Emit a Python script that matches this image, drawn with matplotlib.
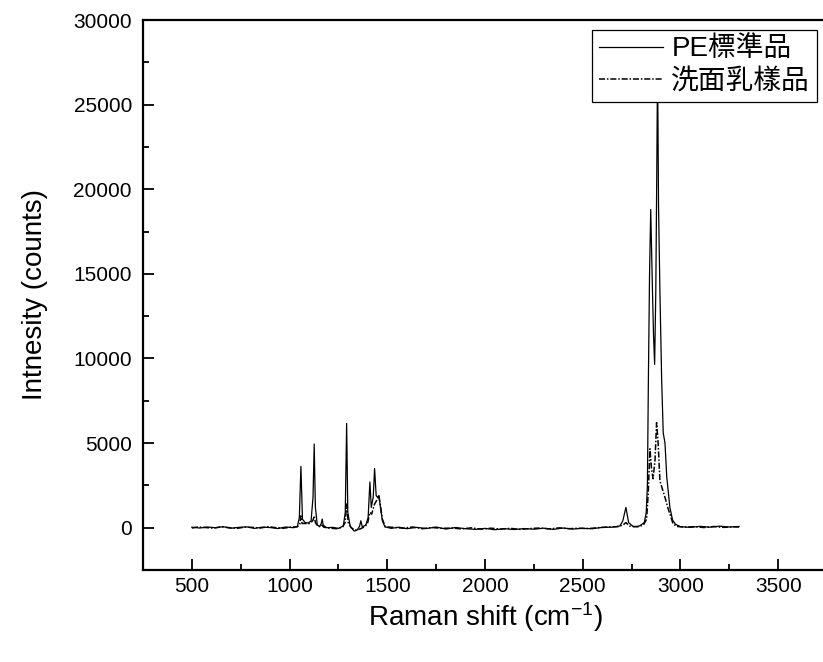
import matplotlib
matplotlib.use('Agg')
import matplotlib.pyplot as plt
from matplotlib.ticker import MultipleLocator

plt.rcParams['font.family'] = ['Liberation Sans', 'Noto Sans CJK TC']
plt.rcParams['mathtext.fontset'] = 'custom'
plt.rcParams['mathtext.rm'] = 'Liberation Sans'
plt.rcParams['mathtext.it'] = 'Liberation Sans:italic'

# --- data ---
# PE standard (solid line)
pe_x = [500, 540, 580, 620, 660, 700, 740, 780, 820, 860, 900, 940, 980, 1020,
        1040, 1050, 1058, 1066, 1080, 1095, 1110, 1120, 1126, 1132, 1142, 1155,
        1162, 1167, 1172, 1190, 1220, 1250, 1275, 1285, 1292, 1298, 1310, 1330,
        1345, 1358, 1365, 1372, 1390, 1402, 1411, 1418, 1428, 1435, 1443, 1450,
        1457, 1465, 1475, 1488, 1520, 1560, 1600, 1650, 1700, 1750, 1800, 1850,
        1900, 1950, 2000, 2050, 2100, 2150, 2200, 2250, 2300, 2350, 2400, 2450,
        2500, 2550, 2600, 2650, 2690, 2705, 2721, 2735, 2760, 2790, 2815, 2825,
        2831, 2836, 2842, 2848, 2855, 2862, 2868, 2874, 2879, 2883, 2888, 2895,
        2904, 2912, 2921, 2930, 2946, 2960, 2975, 3000, 3050, 3100, 3150, 3200,
        3250, 3300]
pe_y = [30, -20, 40, 0, 60, -30, 20, 50, -40, 30, 10, -50, 40, 0,
        80, 600, 3620, 500, 300, 280, 400, 1800, 4940, 1200, 150, 80,
        250, 510, 150, 0, 20, -40, 100, 900, 6160, 900, 100, -200,
        -150, 80, 410, 50, 150, 600, 2700, 1200, 1800, 3500, 1900, 1800,
        1900, 1200, 400, 50, -40, 30, -60, 20, -50, 40, -80, 10,
        -60, -100, -40, -120, -60, -110, -50, -90, -30, -100, -20, -80,
        -40, -60, 20, 30, 100, 400, 1200, 300, 50, 100, 300, 900,
        2500, 8700, 15000, 18800, 15000, 11500, 9650, 14000, 21000, 27500, 19000, 14000,
        8700, 5600, 5000, 3000, 1200, 450, 200, 60, 20, 80, 30, 90,
        40, 70]

# face wash sample (dash-dot line)
fw_x = [500, 530, 570, 610, 650, 690, 730, 770, 810, 850, 890, 930, 970, 1010,
        1040, 1052, 1058, 1064, 1080, 1095, 1110, 1120, 1126, 1132, 1145, 1160,
        1167, 1175, 1200, 1240, 1270, 1284, 1292, 1300, 1315, 1335, 1360, 1385,
        1400, 1411, 1420, 1435, 1445, 1457, 1465, 1475, 1490, 1530, 1580, 1630,
        1680, 1730, 1780, 1830, 1880, 1930, 1980, 2030, 2080, 2130, 2180, 2230,
        2280, 2330, 2380, 2430, 2480, 2530, 2580, 2630, 2680, 2705, 2721, 2740,
        2780, 2810, 2827, 2835, 2844, 2852, 2860, 2870, 2878, 2886, 2895, 2910,
        2921, 2935, 2946, 2962, 2980, 3020, 3070, 3120, 3170, 3220, 3270, 3300]
fw_y = [-20, 40, 10, -30, 50, 0, -40, 30, 20, -20, 60, 0, -30, 40,
        50, 200, 700, 250, 250, 220, 300, 450, 700, 300, 80, 60,
        150, 30, -20, -60, 20, 300, 1400, 300, 0, -150, -80, 60,
        300, 900, 800, 1400, 1600, 1900, 1300, 500, 50, 20, -30, 40,
        -60, 10, -40, -20, -70, -10, -90, -30, -80, -40, -100, -50,
        -20, -70, -10, -60, -30, -50, 0, 40, 60, 150, 300, 100,
        50, 150, 500, 2000, 4660, 3500, 2890, 4000, 6210, 5000, 2770, 2200,
        1790, 1200, 820, 240, 80, 30, 60, 10, 70, 20, 50, 40]

fig = plt.figure(figsize=(8.23, 6.62), dpi=100)
ax = fig.add_axes([143 / 823, 1 - 570 / 662, 684 / 823, 550 / 662])

ax.plot(pe_x, pe_y, color='black', lw=0.9, label='PE標準品')
ax.plot(fw_x, fw_y, color='black', lw=1.1, ls=(0, (4, 1.2, 1, 1.2)), label='洗面乳樣品')

ax.set_xlim(250, 3750)
ax.set_ylim(-2500, 30000)
ax.xaxis.set_major_locator(MultipleLocator(500))
ax.xaxis.set_minor_locator(MultipleLocator(250))
ax.yaxis.set_major_locator(MultipleLocator(5000))
ax.yaxis.set_minor_locator(MultipleLocator(2500))
ax.tick_params(which='both', direction='in', top=False, right=False, width=1.3)
ax.tick_params(which='major', length=8, labelsize=15)
ax.tick_params(which='minor', length=4)
ax.tick_params(axis='x', pad=5)
ax.tick_params(axis='y', pad=8)
for s in ax.spines.values():
    s.set_linewidth(1.6)

ax.set_xlabel('Raman shift (cm$^{-1}$)', fontsize=20, labelpad=3)
ax.set_ylabel('Intnesity (counts)', fontsize=20, labelpad=18)

leg = ax.legend(loc='upper right', bbox_to_anchor=(817 / 823, 1 - 30 / 662),
                bbox_transform=fig.transFigure, borderaxespad=0, fontsize=20,
                handlelength=2.3, handletextpad=0.3, labelspacing=0.22,
                borderpad=0.25, fancybox=False, framealpha=1)
leg.get_frame().set_edgecolor('black')
leg.get_frame().set_linewidth(0.9)

fig.savefig('out.png', dpi=100)
